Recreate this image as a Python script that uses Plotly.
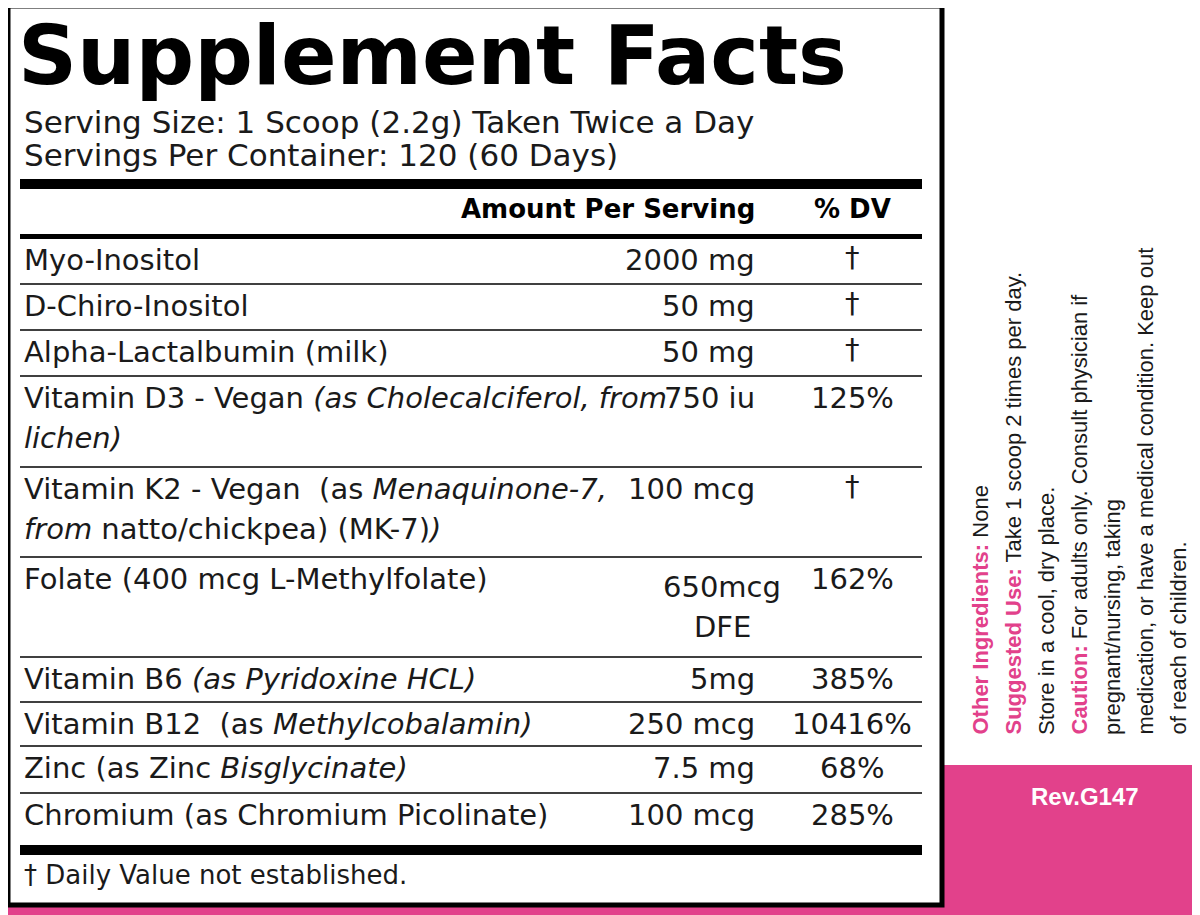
import plotly.graph_objects as go

# label content
title = "Supplement Facts"
serving_lines = ["Serving Size: 1 Scoop (2.2g) Taken Twice a Day",
                 "Servings Per Container: 120 (60 Days)"]
ingredients = [
    ["Myo-Inositol"],
    ["D-Chiro-Inositol"],
    ["Alpha-Lactalbumin (milk)"],
    ["Vitamin D3 - Vegan <i>(as Cholecalciferol, from</i>", "<i>lichen)</i>"],
    ["Vitamin K2 - Vegan  (as <i>Menaquinone-7,</i>", "<i>from</i> natto/chickpea) (MK-7)<i>)</i>"],
    ["Folate (400 mcg L-Methylfolate)"],
    ["Vitamin B6 <i>(as Pyridoxine HCL)</i>"],
    ["Vitamin B12  (as <i>Methylcobalamin)</i>"],
    ["Zinc (as Zinc <i>Bisglycinate)</i>"],
    ["Chromium (as Chromium Picolinate)"],
]
amounts = [["2000 mg"], ["50 mg"], ["50 mg"], ["750 iu"], ["100 mcg"],
           ["650mcg", "DFE"], ["5mg"], ["250 mcg"], ["7.5 mg"], ["100 mcg"]]
daily_values = ["†", "†", "†", "125%", "†", "162%", "385%", "10416%", "68%", "285%"]
footnote = "† Daily Value not established."
side_lines = [
    "<b><span style='color:#e2418b'>Other Ingredients:</span></b> None",
    "<b><span style='color:#e2418b'>Suggested Use:</span></b> Take 1 scoop 2 times per day.",
    "Store in a cool, dry place.",
    "<b><span style='color:#e2418b'>Caution:</span></b> For adults only. Consult physician if",
    "pregnant/nursing, taking",
    "medication, or have a medical condition. Keep out",
    "of reach of children.",
]
revision = "Rev.G147"

# layout geometry (pixels, page offset by the 8px body margin)
PINK = "#e2418b"
row_tops = [238, 284, 330, 376, 467, 557, 657, 702, 746, 793]
AMT_X, DV_X, NAME_X = 757, 852, 22
FONT = "DejaVu Sans, sans-serif"
OFF = 8

shapes = []
ann = []

def rect(x0, y0, x1, y1, color, line=None):
    shapes.append(dict(type="rect", x0=x0, y0=y0, x1=x1, y1=y1, fillcolor=color,
                       line=dict(width=0) if line is None else line, layer="above"))

rect(0, 765, 1220, 930, PINK)
rect(8, 6, 942, 905, "white", dict(color="black", width=5))
rect(20, 179, 922, 189, "black")
rect(20, 234, 922, 239, "black")
rect(20, 845, 922, 855, "black")
for y in row_tops[1:]:
    shapes.append(dict(type="line", x0=20, x1=922, y0=y, y1=y,
                       line=dict(color="black", width=1.5), layer="above"))

def text(x, y, s, size, anchor="left", color="#1a1a1a", family=FONT, angle=0, yanchor="middle", xanchor=None):
    ann.append(dict(x=x, y=y, text=s, showarrow=False, xanchor=xanchor or anchor, yanchor=yanchor,
                    textangle=angle, font=dict(size=size, color=color, family=family)))

text(16, 55, "<b>" + title + "</b>", 82, color="black")
for i, s in enumerate(serving_lines):
    text(22, 122 + i * 33, s, 31)
text(AMT_X, 209, "<b>Amount Per Serving</b>", 26, anchor="right", color="black")
text(DV_X, 209, "<b>% DV</b>", 26, anchor="center", color="black")

for i, (nm, am, dv) in enumerate(zip(ingredients, amounts, daily_values)):
    y0 = row_tops[i] + 22
    for j, s in enumerate(nm):
        text(NAME_X, y0 + j * 40, s, 29)
    for j, s in enumerate(am):
        text(AMT_X if len(am) == 1 else 722, y0 + 8 * (len(am) > 1) + j * 40, s, 29,
             anchor="right" if len(am) == 1 else "center")
    text(DV_X, y0 - (3 if dv == "†" else 0), dv, 29, anchor="center")

text(22, 875, footnote, 26)

for i, s in enumerate(side_lines):
    text(980 + i * 33, 737, s, 22, angle=-90, yanchor="bottom", xanchor="center",
         family="Liberation Sans, Arial, sans-serif")

text(1085, 796, "<b>" + revision + "</b>", 24, anchor="center", color="white",
     family="Liberation Sans, Arial, sans-serif")

fig = go.Figure()
fig.update_layout(
    width=1200, height=915, margin=dict(l=0, r=0, t=0, b=0),
    paper_bgcolor="white", plot_bgcolor="white",
    xaxis=dict(range=[OFF, 1200 + OFF], visible=False, fixedrange=True),
    yaxis=dict(range=[915 + OFF, OFF], visible=False, fixedrange=True),
    shapes=shapes, annotations=ann, showlegend=False,
)
fig.write_html("out.html")
